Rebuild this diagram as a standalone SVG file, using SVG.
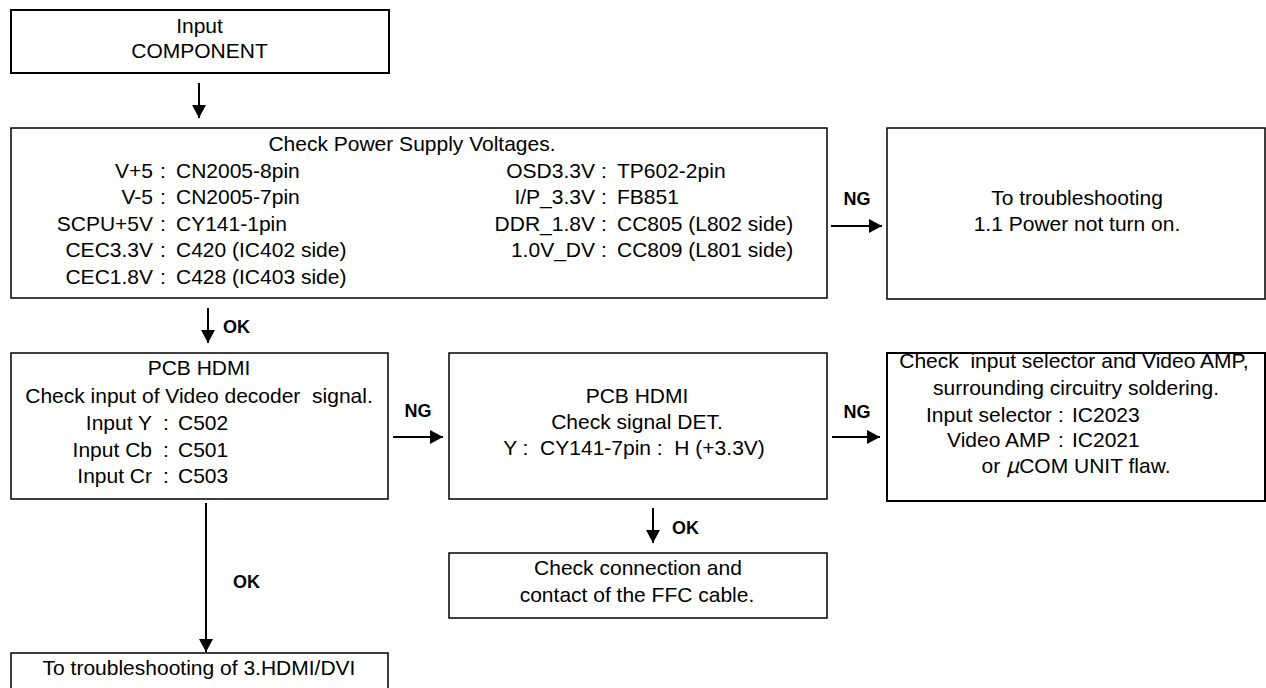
<svg xmlns="http://www.w3.org/2000/svg" width="1266" height="688" viewBox="0 0 1266 688">
<style>
  .box { fill: #fff; stroke: #000; stroke-width: 1.5; }
  .thick { stroke-width: 2; }
  text { font-family: "Liberation Sans", Arial, sans-serif; font-size: 21px; fill: #000; }
  .c { text-anchor: middle; }
  .r { text-anchor: end; }
  .pre { white-space: pre; }
  .lbl { font-weight: bold; font-size: 18px; }
  .conn line { stroke: #000; stroke-width: 2; fill: none; marker-end: url(#arr); }
</style>
<defs>
  <marker id="arr" viewBox="0 0 13 14" refX="13" refY="7" markerWidth="13" markerHeight="14" markerUnits="userSpaceOnUse" orient="auto">
    <path d="M0,0 L13,7 L0,14 z" fill="#000"/>
  </marker>
</defs>
<rect width="1266" height="688" fill="#fff"/>

<g id="n1">
  <rect class="box thick" x="11" y="10" width="378" height="63"/>
  <text class="c" x="199.5" y="33">Input</text>
  <text class="c" x="199.5" y="58">COMPONENT</text>
</g>

<g id="n2">
  <rect class="box" x="11" y="128" width="816" height="170"/>
  <text class="c" x="412" y="151">Check Power Supply Voltages.</text>
  <text class="r" x="153" y="178">V+5</text><text x="160" y="178">:</text><text x="176" y="178">CN2005-8pin</text>
  <text class="r" x="153" y="204">V-5</text><text x="160" y="204">:</text><text x="176" y="204">CN2005-7pin</text>
  <text class="r" x="153" y="231">SCPU+5V</text><text x="160" y="231">:</text><text x="176" y="231">CY141-1pin</text>
  <text class="r" x="153" y="257">CEC3.3V</text><text x="160" y="257">:</text><text x="176" y="257">C420 (IC402 side)</text>
  <text class="r" x="153" y="284">CEC1.8V</text><text x="160" y="284">:</text><text x="176" y="284">C428 (IC403 side)</text>
  <text class="r" x="595" y="178">OSD3.3V</text><text x="601" y="178">:</text><text x="617" y="178">TP602-2pin</text>
  <text class="r" x="595" y="204">I/P_3.3V</text><text x="601" y="204">:</text><text x="617" y="204">FB851</text>
  <text class="r" x="595" y="231">DDR_1.8V</text><text x="601" y="231">:</text><text x="617" y="231">CC805 (L802 side)</text>
  <text class="r" x="595" y="257">1.0V_DV</text><text x="601" y="257">:</text><text x="617" y="257">CC809 (L801 side)</text>
</g>

<g id="n3">
  <rect class="box" x="887" y="128" width="378" height="171"/>
  <text class="c" x="1077" y="205">To troubleshooting</text>
  <text class="c" x="1077" y="231">1.1 Power not turn on.</text>
</g>

<g id="n4">
  <rect class="box" x="11" y="353" width="377" height="146"/>
  <text class="c" x="199" y="375">PCB HDMI</text>
  <text class="c pre" x="199" y="403">Check input of Video decoder  signal.</text>
  <text class="r" x="152" y="430">Input Y</text><text x="163" y="430">:</text><text x="178" y="430">C502</text>
  <text class="r" x="152" y="457">Input Cb</text><text x="163" y="457">:</text><text x="178" y="457">C501</text>
  <text class="r" x="152" y="483">Input Cr</text><text x="163" y="483">:</text><text x="178" y="483">C503</text>
</g>

<g id="n5">
  <rect class="box" x="449" y="353" width="378" height="146"/>
  <text class="c" x="637" y="403">PCB HDMI</text>
  <text class="c" x="637" y="429">Check signal DET.</text>
  <text class="c pre" x="634" y="455">Y :  CY141-7pin :  H (+3.3V)</text>
</g>

<g id="n6">
  <rect class="box thick" x="887" y="353" width="378" height="148"/>
  <text class="c pre" x="1074" y="368">Check  input selector and Video AMP,</text>
  <text class="c" x="1076" y="395">surrounding circuitry soldering.</text>
  <text x="926" y="422">Input selector</text><text x="1058" y="422">:</text><text x="1072" y="422">IC2023</text>
  <text x="947" y="447">Video AMP</text><text x="1058" y="447">:</text><text x="1072" y="447">IC2021</text>
  <text class="c" x="1076" y="473">or <tspan font-family="'Noto Sans CJK JP', sans-serif" font-style="italic">μ</tspan>COM UNIT flaw.</text>
</g>

<g id="n7">
  <rect class="box" x="449" y="553" width="378" height="65"/>
  <text class="c" x="638" y="575">Check connection and</text>
  <text class="c" x="637" y="602">contact of the FFC cable.</text>
</g>

<g id="n8">
  <rect class="box" x="11" y="653" width="377" height="60"/>
  <text class="c" x="199" y="675">To troubleshooting of 3.HDMI/DVI</text>
</g>

<g id="connectors" class="conn">
  <line x1="199" y1="83" x2="199" y2="118"/>
  <line x1="208" y1="308" x2="208" y2="343"/>
  <line x1="831" y1="226" x2="882" y2="226"/>
  <line x1="393" y1="437" x2="443" y2="437"/>
  <line x1="832" y1="437" x2="880" y2="437"/>
  <line x1="653" y1="508" x2="653" y2="543"/>
  <line x1="206" y1="503" x2="206" y2="652"/>
  <text class="lbl c" x="857" y="205">NG</text>
  <text class="lbl" x="223" y="333">OK</text>
  <text class="lbl c" x="418" y="417">NG</text>
  <text class="lbl c" x="857" y="418">NG</text>
  <text class="lbl" x="672" y="534">OK</text>
  <text class="lbl" x="233" y="588">OK</text>
</g>
</svg>
